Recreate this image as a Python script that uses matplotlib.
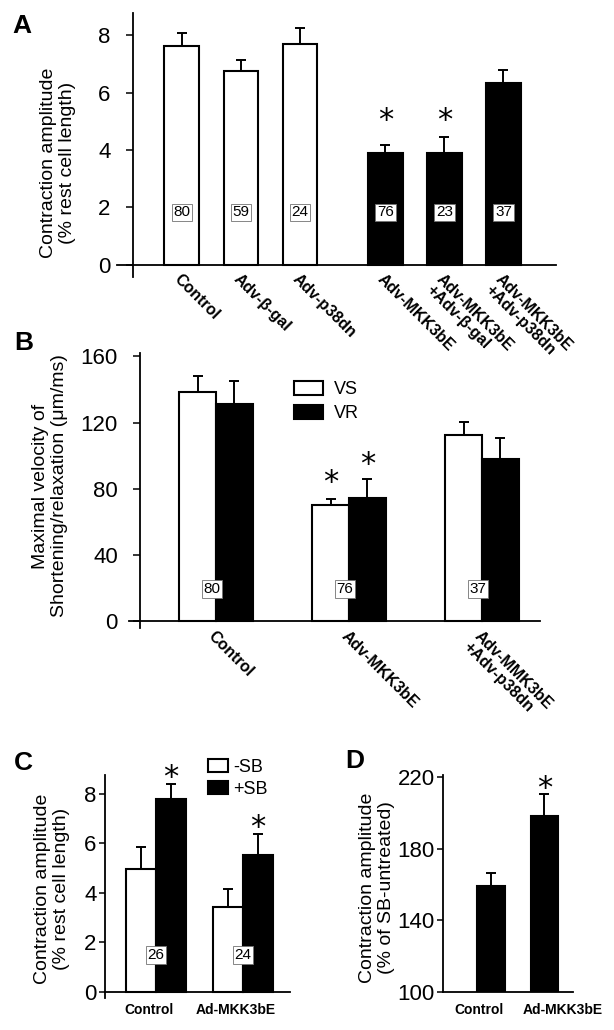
import numpy as np
import matplotlib
matplotlib.use('Agg')
import matplotlib.pyplot as plt
from matplotlib.patches import Patch

plt.rcParams['font.family'] = ['Liberation Sans', 'DejaVu Sans']

# -------------------------
# data
# -------------------------
# panel A
a_groups = ['Control', 'Adv-\u03b2-gal', 'Adv-p38dn', 'Adv-MKK3bE',
            'Adv-MKK3bE\n+Adv-\u03b2-gal', 'Adv-MKK3bE\n+Adv-p38dn']
a_means = [7.63, 6.76, 7.68, 3.91, 3.89, 6.33]
a_sem = [0.43, 0.39, 0.57, 0.27, 0.56, 0.47]
a_n = [80, 59, 24, 76, 23, 37]
a_filled = [False, False, False, True, True, True]
a_star = [False, False, False, True, True, False]

# panel B
b_groups = ['Control', 'Adv-MKK3bE', 'Adv-MMK3bE\n+Adv-p38dn']
b_vs = [138.3, 70.3, 112.6]
b_vs_sem = [9.7, 3.8, 7.6]
b_vr = [131.5, 74.3, 98.1]
b_vr_sem = [13.5, 11.7, 12.4]
b_n = [80, 76, 37]
b_star = [False, True, False]

# panel C
c_groups = ['Control', 'Ad-MKK3bE']
c_minus = [4.95, 3.44]
c_minus_sem = [0.91, 0.71]
c_plus = [7.77, 5.52]
c_plus_sem = [0.60, 0.86]
c_n = [26, 24]

# panel D
d_groups = ['Control', 'Ad-MKK3bE']
d_means = [159.3, 197.9]
d_sem = [7.0, 12.7]

W, H = 614, 1030
fig = plt.figure(figsize=(W / 100, H / 100), dpi=100)


def px_axes(left, right, top, bottom):
    # axes box given in pixel coords of the 614x1030 image
    return fig.add_axes([left / W, 1 - bottom / H, (right - left) / W, (bottom - top) / H])


def clean(ax, tick_len, tick_pad):
    ax.spines['top'].set_visible(False)
    ax.spines['right'].set_visible(False)
    for s in ['left', 'bottom']:
        ax.spines[s].set_linewidth(1.3)
    ax.tick_params(axis='y', direction='out', length=tick_len, width=1.1,
                   pad=tick_pad, labelsize=16)
    ax.patch.set_alpha(0)


def star(ax, x, y, fs=22):
    ax.annotate('*', (x, y), xytext=(0, -0.55 * fs), textcoords='offset points',
                ha='center', va='baseline', fontsize=fs, family='DejaVu Sans',
                annotation_clip=False)


def n_label(ax, x, y, n):
    ax.text(x, y, str(n), ha='center', va='center', fontsize=11, zorder=5,
            bbox=dict(boxstyle='square,pad=0.12', fc='white', ec='0.45', lw=0.6))


def err(ax, x, m, s):
    ax.errorbar(x, m, yerr=[np.zeros(len(m)), s], fmt='none', ecolor='black',
                elinewidth=1.4, capsize=3.5, capthick=1.4, zorder=3)


# -------------------------
# A
# -------------------------
axA = px_axes(117, 556, 13, 277)
xA = np.array([0, 1, 2, 3.45, 4.45, 5.45])
axA.set_xlim(-1.10, 6.34)
axA.set_ylim(-0.42, 8.77)
colsA = ['black' if f else 'white' for f in a_filled]
axA.bar(xA, a_means, width=0.59, color=colsA, edgecolor='black', linewidth=1.5, zorder=2)
err(axA, xA, a_means, a_sem)
clean(axA, 5, 11)
axA.spines['left'].set_position(('data', -0.83))
axA.spines['bottom'].set_position(('data', 0))
axA.set_yticks([0, 2, 4, 6, 8])
axA.set_xticks(xA)
axA.set_xticklabels(a_groups, rotation=-45, ha='left', va='top', rotation_mode='anchor',
                    fontsize=11.5, fontweight='bold', linespacing=1.0)
axA.tick_params(axis='x', length=0, pad=5)
for x, n in zip(xA, a_n):
    n_label(axA, x, 1.83, n)
topA = np.array(a_means) + np.array(a_sem)
yA_star = topA[np.array(a_star)].max() + 0.85
for x, s in zip(xA, a_star):
    if s:
        star(axA, x, yA_star)

# -------------------------
# B
# -------------------------
axB = px_axes(129, 540, 353, 628)
xB = np.arange(len(b_groups))
wB = 0.278
axB.set_xlim(-0.654, 2.436)
axB.set_ylim(-4, 162)
axB.bar(xB - wB / 2, b_vs, width=wB, color='white', edgecolor='black', linewidth=1.5, zorder=2)
axB.bar(xB + wB / 2, b_vr, width=wB, color='black', edgecolor='black', linewidth=1.5, zorder=2)
err(axB, xB - wB / 2, b_vs, b_vs_sem)
err(axB, xB + wB / 2, b_vr, b_vr_sem)
clean(axB, 5, 11)
axB.spines['left'].set_position(('data', -0.57))
axB.spines['bottom'].set_position(('data', 0))
axB.set_yticks([0, 40, 80, 120, 160])
axB.set_xticks(xB)
axB.set_xticklabels(b_groups, rotation=-45, ha='left', va='top', rotation_mode='anchor',
                    fontsize=11.5, fontweight='bold', linespacing=1.0)
axB.tick_params(axis='x', length=0, pad=5)
for x, n in zip(xB, b_n):
    n_label(axB, x - 0.03, 19.7, n)
for i, s in enumerate(b_star):
    if s:
        star(axB, xB[i] - wB / 2, b_vs[i] + b_vs_sem[i] + 15)
        star(axB, xB[i] + wB / 2, b_vr[i] + b_vr_sem[i] + 14)
axB.legend(handles=[Patch(fc='white', ec='black', lw=1.5), Patch(fc='black', ec='black', lw=1.5)],
           labels=['VS', 'VR'], loc='upper left', bbox_to_anchor=(285 / W, 1 - 372 / H),
           bbox_transform=fig.transFigure, frameon=False, fontsize=13, borderpad=0,
           handlelength=1.6, handleheight=0.85, handletextpad=0.6, labelspacing=0.35)

# -------------------------
# C
# -------------------------
axC = px_axes(105, 290, 775, 998)
xC = np.arange(len(c_groups))
wC = 0.34
axC.set_xlim(-0.586, 1.54)
axC.set_ylim(-0.25, 8.75)
axC.bar(xC - wC / 2, c_minus, width=wC, color='white', edgecolor='black', linewidth=1.5, zorder=2)
axC.bar(xC + wC / 2, c_plus, width=wC, color='black', edgecolor='black', linewidth=1.5, zorder=2)
err(axC, xC - wC / 2, c_minus, c_minus_sem)
err(axC, xC + wC / 2, c_plus, c_plus_sem)
clean(axC, 4, 2)
axC.spines['bottom'].set_position(('data', 0))
axC.set_yticks([0, 2, 4, 6, 8])
axC.set_xticks(xC - 0.08)
axC.set_xticklabels(c_groups, fontsize=10, fontweight='bold')
axC.tick_params(axis='x', length=0, pad=8)
for x, n in zip(xC, c_n):
    n_label(axC, x, 1.49, n)
for x, m, s in zip(xC, c_plus, c_plus_sem):
    star(axC, x + wC / 2, m + s + 0.6)
axC.legend(handles=[Patch(fc='white', ec='black', lw=1.5), Patch(fc='black', ec='black', lw=1.5)],
           labels=['-SB', '+SB'], loc='upper left', bbox_to_anchor=(199 / W, 1 - 750 / H),
           bbox_transform=fig.transFigure, frameon=False, fontsize=13, borderpad=0,
           handlelength=1.1, handleheight=0.75, handletextpad=0.3, labelspacing=0.25)

# -------------------------
# D
# -------------------------
axD = px_axes(443, 573, 775, 992)
xD = np.arange(len(d_groups))
axD.set_xlim(-0.897, 1.533)
axD.set_ylim(100, 221)
axD.bar(xD, d_means, width=0.52, color='black', edgecolor='black', linewidth=1.5, zorder=2)
err(axD, xD, d_means, d_sem)
clean(axD, 4, 2)
axD.set_yticks([100, 140, 180, 220])
axD.set_xticks(xD + np.array([-0.22, 0.34]))
axD.set_xticklabels(d_groups, fontsize=10, fontweight='bold')
axD.tick_params(axis='x', length=0, pad=8)
star(axD, xD[1], d_means[1] + d_sem[1] + 7.5)

# -------------------------
# y labels and panel letters
# -------------------------
ylab = dict(rotation=90, ha='center', va='center', fontsize=14, linespacing=1.2,
            multialignment='center')
fig.text(58 / W, 1 - 163 / H, 'Contraction amplitude\n(% rest cell length)', **ylab)
fig.text(50 / W, 1 - 486 / H, 'Maximal velocity of\nShortening/relaxation (\u03bcm/ms)', **ylab)
fig.text(52 / W, 1 - 889 / H, 'Contraction amplitude\n(% rest cell length)', **ylab)
fig.text(377 / W, 1 - 888 / H, 'Contraction amplitude\n(% of SB-untreated)', **ylab)

for letter, x, y in [('A', 12, 33), ('B', 14, 350), ('C', 14, 770), ('D', 345, 768)]:
    fig.text(x / W, 1 - y / H, letter, fontsize=19, fontweight='bold', va='baseline', ha='left')

fig.savefig('out.png', dpi=100)
